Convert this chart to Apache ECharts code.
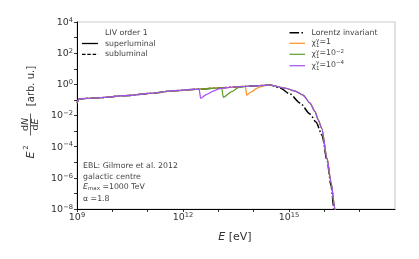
<!DOCTYPE html>
<html><head><meta charset="utf-8">
<script src="https://cdn.jsdelivr.net/npm/echarts@6/dist/echarts.min.js"></script>
<style>html,body{margin:0;padding:0;background:#fff}#c{width:419px;height:259px}</style>
</head><body><div id="c"></div>
<script>
// main spectrum (shared below the dips)
const mainE = [1e9, 1.14e9, 1.98e9, 4.48e9, 2.28e10, 1.16e11, 5.94e11, 3.03e12, 1.11e13, 4.10e13, 1.09e14, 2.09e14, 2.90e14];
const mainY = [0.0634, 0.1145, 0.127, 0.1387, 0.186, 0.2656, 0.390, 0.501, 0.594, 0.705, 0.805, 0.867, 0.906];
// Lorentz invariant cutoff
const liTailE = [5.56e14, 1.067e15, 2.05e15, 3.93e15, 5.81e15, 8.59e15, 1.19e16, 1.54e16, 1.88e16, 2.14e16];
const liTailY = [0.581, 0.240, 0.0634, 0.01247, 0.00382, 5.6e-4, 1.39e-5, 3.47e-7, 1.0e-8, 9.3e-10];
// LIV superluminal cutoff
const livTailE = [7.71e14, 1.48e15, 2.49e15, 3.93e15, 5.44e15, 6.75e15, 8.42e15, 1.19e16, 1.54e16, 2.0e16, 2.28e16];
const livTailY = [0.581, 0.373, 0.2066, 0.0634, 0.01754, 0.00514, 1.51e-3, 1.87e-5, 5.4e-7, 1e-8, 1.5e-9];
// threshold dips
const dip1E = [5.8e13, 6.35e13, 8.41e13, 1.22e14, 1.72e14, 2.55e14];
const dip1Y = [0.759, 0.198, 0.322, 0.556, 0.748, 0.88];
const dip2E = [1.245e13, 1.38e13, 2.39e13, 3.67e13, 6.92e13];
const dip2Y = [0.604, 0.147, 0.337, 0.608, 0.77];
const dip4E = [2.86e12, 3.16e12, 4.68e12, 7.21e12, 1.11e13, 2.14e13];
const dip4Y = [0.498, 0.127, 0.229, 0.373, 0.532, 0.645];
const xTicks = [1e9,1e10,1e11,1e12,1e13,1e14,1e15,1e16,1e17,1e18];
const xLabels = [1e9,1e12,1e15,1e18];
const yTicks = [1e-8,1e-7,1e-6,1e-5,1e-4,1e-3,1e-2,1e-1,1,1e1,1e2,1e3,1e4];
const yLabels = [1e-8,1e-6,1e-4,1e-2,1,1e2,1e4];

function pairs(E, Y){ return E.map((e,i)=>[e, Y[i]]); }
const mainP = pairs(mainE, mainY);
function withDip(dE, dY){
  const pre = mainP.filter(p=>p[0] < dE[0]);
  const post = mainP.filter(p=>p[0] > dE[dE.length-1]);
  return pre.concat(pairs(dE,dY), post, pairs(livTailE, livTailY));
}
const liData = mainP.concat(pairs(liTailE, liTailY));
const FONT = 'DejaVu Sans';
const TC = '#333';
const C_OR = '#ff8f1f', C_GR = '#5c9d2e', C_PU = '#a24ff5';
function expLabel(v){
  const e = Math.round(Math.log10(v));
  return '{b|10}{s|' + (e < 0 ? '\u2212' + (-e) : e) + '}';
}
const tickRich = {
  b:{fontSize:9.5, fontFamily:FONT, color:TC, lineHeight:11, padding:[3,0,0,0], verticalAlign:'bottom'},
  s:{fontSize:6.7, fontFamily:FONT, color:TC, lineHeight:8, verticalAlign:'top'}
};
const chart = echarts.init(document.getElementById('c'), null, {renderer:'canvas'});
const txt = (x,y,text,extra)=>Object.assign({type:'text', x, y, style:Object.assign({text, fontSize:7.8, fontFamily:FONT, fill:'#444', align:'left', verticalAlign:'middle'}, extra||{})});
const seg = (x1,x2,y,color,w,dash)=>({type:'line', shape:{x1,y1:y,x2,y2:y}, style:{stroke:color, lineWidth:w, lineDash:dash||null}});
const supRich = {
  n:{fontSize:7.8, fontFamily:FONT, fill:'#444', color:'#444', lineHeight:9, padding:[3,0,0,0], verticalAlign:'bottom'},
  s:{fontSize:5.5, fontFamily:FONT, fill:'#444', color:'#444', lineHeight:6, verticalAlign:'top'}
};
function chiItem(y, rhs){
  return [
    txt(311.5, y, '\u03c7'),
    txt(316, y-3, '\u03b3', {fontSize:5.5}),
    txt(316, y+2.5, '1', {fontSize:5.5}),
    txt(319.5, y-1.5, rhs, {rich:supRich})
  ];
}
const lineCommon = {type:'line', showSymbol:false, symbol:'none', smooth:0.25, smoothMonotone:'x'};
const option = {
  animation:false,
  grid:{left:77, right:24, top:22, bottom:50, show:true, borderColor:'#cccccc', borderWidth:1.2},
  xAxis:{type:'log', logBase:10, min:1e9, max:1e18,
    axisLine:{lineStyle:{color:'#000', width:1}},
    axisTick:{show:true, length:3, lineStyle:{color:'#000', width:0.8}, customValues:xTicks},
    splitLine:{show:false}, minorTick:{show:false},
    axisLabel:{customValues:xLabels, formatter:expLabel, rich:tickRich, margin:3}
  },
  yAxis:{type:'log', logBase:10, min:1e-8, max:1e4,
    axisLine:{show:true, lineStyle:{color:'#000', width:1}},
    axisTick:{show:true, length:3, lineStyle:{color:'#000', width:0.8}, customValues:yTicks},
    splitLine:{show:false}, minorTick:{show:false},
    axisLabel:{customValues:yLabels, formatter:expLabel, rich:tickRich, margin:4}
  },
  series:[
    Object.assign({name:'Lorentz invariant', data:liData, z:2,
      lineStyle:{color:'#000', width:1.5, type:[9.6,2.4,1.5,2.4]}}, lineCommon),
    Object.assign({name:'chi=1', data:withDip(dip1E,dip1Y), z:3,
      lineStyle:{color:C_OR, width:1.25}}, lineCommon),
    Object.assign({name:'chi=1e-2', data:withDip(dip2E,dip2Y), z:4,
      lineStyle:{color:C_GR, width:1.25}}, lineCommon),
    Object.assign({name:'chi=1e-4', data:withDip(dip4E,dip4Y), z:5,
      lineStyle:{color:C_PU, width:1.25}}, lineCommon)
  ],
  graphic:[
    // left legend
    txt(105, 33, 'LIV order 1'),
    seg(82, 98, 43.5, '#000', 1.3),
    txt(105, 43.5, 'superluminal'),
    seg(82, 98, 54.3, '#000', 1.3, [3.5,1.8]),
    txt(105, 54.3, 'subluminal'),
    // right legend
    seg(289.5, 305, 32.7, '#000', 1.5, [9.6,2.4,1.5,2.4]),
    txt(311.5, 32.7, 'Lorentz invariant'),
    seg(289.5, 305, 43.3, C_OR, 1.2),
    seg(289.5, 305, 54.3, C_GR, 1.2),
    seg(289.5, 305, 65.7, C_PU, 1.2),
    ...chiItem(43.3, '{n|=1}'),
    ...chiItem(54.3, '{n|=10}{s|\u22122}'),
    ...chiItem(65.7, '{n|=10}{s|\u22124}'),
    // annotations
    txt(83, 166, 'EBL: Gilmore et al. 2012'),
    txt(83, 177, 'galactic centre'),
    txt(83, 187.5, '{i|E}{sub|max}{n| =1000 TeV}', {rich:{
      i:{fontSize:7.8, fontStyle:'italic', fontFamily:FONT, fill:'#444', lineHeight:9, verticalAlign:'top'},
      n:{fontSize:7.8, fontFamily:FONT, fill:'#444', lineHeight:9, verticalAlign:'top'},
      sub:{fontSize:5.5, fontFamily:FONT, fill:'#444', lineHeight:6, padding:[5,0,0,0], verticalAlign:'bottom'}}}),
    txt(83, 199, '\u03b1 =1.8'),
    // y axis label
    {type:'text', x:31, y:86, rotation:Math.PI/2, style:{text:'[arb. u.]', fontSize:10, fontFamily:FONT, fill:TC, align:'center', verticalAlign:'middle'}},
    {type:'text', x:31, y:155, rotation:Math.PI/2, style:{text:'E', fontSize:11, fontStyle:'italic', fontFamily:FONT, fill:TC, align:'center', verticalAlign:'middle'}},
    {type:'text', x:26.5, y:147.5, rotation:Math.PI/2, style:{text:'2', fontSize:7, fontFamily:FONT, fill:TC, align:'center', verticalAlign:'middle'}},
    {type:'line', shape:{x1:30.5, y1:113.5, x2:30.5, y2:135.5}, style:{stroke:TC, lineWidth:0.8}},
    {type:'text', x:25.5, y:124.5, rotation:Math.PI/2, style:{text:'d{i|N}', fontSize:9.5, fontFamily:FONT, fill:TC, align:'center', verticalAlign:'middle', rich:{i:{fontSize:9.5, fontStyle:'italic', fontFamily:FONT, fill:TC}}}},
    {type:'text', x:36, y:124.5, rotation:Math.PI/2, style:{text:'d{i|E}', fontSize:9.5, fontFamily:FONT, fill:TC, align:'center', verticalAlign:'middle', rich:{i:{fontSize:9.5, fontStyle:'italic', fontFamily:FONT, fill:TC}}}},
    // x axis label
    {type:'text', x:235, y:237, style:{text:'{i|E} [eV]', fontSize:11, fontFamily:FONT, fill:TC, align:'center', verticalAlign:'middle', rich:{i:{fontSize:11, fontStyle:'italic', fontFamily:FONT, fill:TC}}}}
  ]
};
chart.setOption(option);
</script></body></html>
